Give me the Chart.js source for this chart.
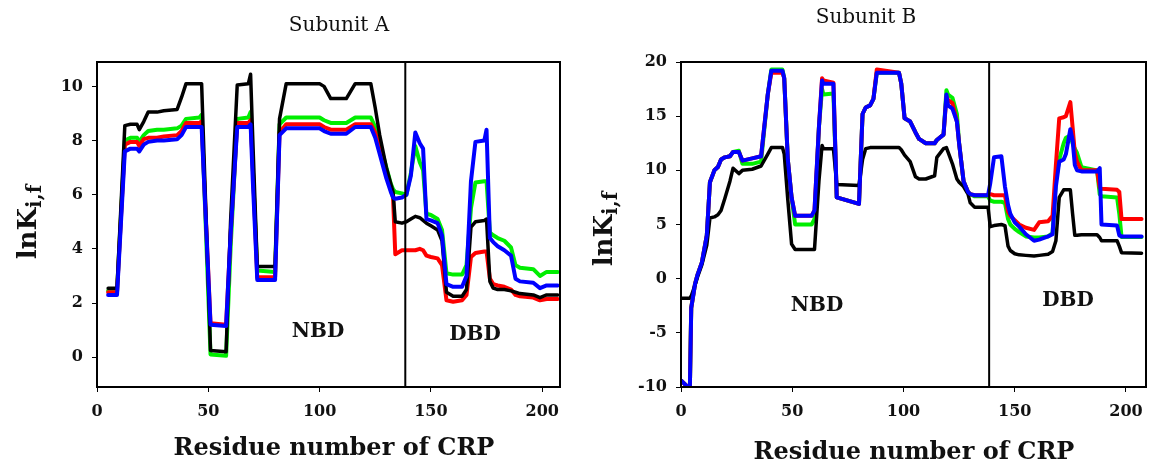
<!DOCTYPE html>
<html>
<head>
<meta charset="utf-8">
<script src="https://cdn.jsdelivr.net/npm/chart.js@4.4.0/dist/chart.umd.min.js"></script>
<style>
  body { margin: 0; background: #fff; }
  .panel { position: absolute; top: 0; }
</style>
</head>
<body>
<div class="panel" style="left:0"><canvas id="chartA" width="580" height="470"></canvas></div>
<div class="panel" style="left:580px"><canvas id="chartB" width="572" height="470"></canvas></div>
<script>
// residue numbers where the curves change slope
const residuesA = [5, 9, 12.5, 15, 18, 19, 21, 23, 27, 30,
  36, 38, 40, 46, 47, 51, 58, 60, 63, 68,
  69, 70, 72, 80, 82, 85, 100, 102, 105, 112,
  116, 123, 125, 127, 130, 132, 133, 134, 137, 139,
  141, 143, 145, 146.5, 148, 150, 153, 155, 157, 160,
  164, 166, 168, 170, 174, 175, 176.5, 178, 180, 183,
  186, 188, 190, 196, 199, 202, 207];

const blackA = [2.55, 2.55, 8.55, 8.6, 8.6, 8.4, 8.7, 9.05, 9.05, 9.1,
  9.15, 9.6, 10.1, 10.1, 10.1, 0.25, 0.2, 5.0, 10.05, 10.1,
  10.45, 8.0, 3.35, 3.35, 8.8, 10.1, 10.1, 10.0, 9.55, 9.55,
  10.1, 10.1, 9.2, 8.2, 7.0, 6.4, 6.1, 5.0, 4.95, 5.0,
  5.1, 5.2, 5.15, 5.05, 4.95, 4.85, 4.7, 4.3, 2.4, 2.25,
  2.25, 2.5, 4.8, 5.0, 5.05, 5.1, 2.8, 2.55, 2.5, 2.5,
  2.45, 2.4, 2.35, 2.3, 2.2, 2.3, 2.3];
const redA = [2.4, 2.4, 7.85, 7.95, 7.95, 7.8, 8.05, 8.1, 8.1, 8.15,
  8.2, 8.35, 8.65, 8.65, 8.7, 1.25, 1.2, 4.5, 8.65, 8.65,
  8.75, 7.0, 2.95, 2.95, 8.3, 8.6, 8.6, 8.5, 8.4, 8.4,
  8.6, 8.6, 8.3, 7.7, 6.8, 6.2, 5.9, 3.8, 3.95, 3.95,
  3.95, 3.95, 4.0, 3.95, 3.75, 3.7, 3.65, 3.4, 2.1, 2.05,
  2.1, 2.3, 3.7, 3.85, 3.9, 3.9, 2.9, 2.7, 2.65, 2.6,
  2.5, 2.3, 2.25, 2.2, 2.1, 2.15, 2.15];
const greenA = [2.45, 2.45, 8.0, 8.1, 8.1, 7.95, 8.2, 8.35, 8.4, 8.4,
  8.45, 8.55, 8.8, 8.85, 8.95, 0.1, 0.05, 4.0, 8.8, 8.85,
  9.05, 7.0, 3.2, 3.15, 8.6, 8.85, 8.85, 8.75, 8.65, 8.65,
  8.85, 8.85, 8.5, 7.9, 7.0, 6.4, 6.2, 6.1, 6.05, 6.0,
  6.8, 7.8, 7.2, 6.9, 5.3, 5.25, 5.1, 4.7, 3.1, 3.05,
  3.05, 3.4, 5.5, 6.45, 6.5, 6.5, 4.6, 4.5, 4.4, 4.3,
  4.05, 3.4, 3.3, 3.25, 3.0, 3.15, 3.15];
const blueA = [2.3, 2.3, 7.6, 7.7, 7.7, 7.6, 7.85, 7.95, 8.0, 8.0,
  8.05, 8.2, 8.5, 8.5, 8.5, 1.2, 1.15, 4.5, 8.5, 8.5,
  8.6, 6.5, 2.85, 2.85, 8.2, 8.45, 8.45, 8.35, 8.25, 8.25,
  8.5, 8.5, 8.1, 7.5, 6.6, 6.1, 5.9, 5.85, 5.9, 6.0,
  6.7, 8.3, 7.9, 7.7, 5.1, 5.05, 4.95, 4.5, 2.7, 2.6,
  2.6, 3.0, 6.5, 7.95, 8.0, 8.4, 4.4, 4.25, 4.1, 3.95,
  3.75, 2.9, 2.8, 2.75, 2.55, 2.65, 2.65];

const residuesB = [0, 3, 4, 4.6, 6.3, 7.5, 9.4, 11.6, 13, 15,
  16.6, 18, 19.7, 22, 23.4, 26, 27.6, 32, 36, 39,
  40.6, 45.6, 46.4, 48, 49.7, 51.3, 58.7, 60, 62, 63.4,
  64, 68.5, 70, 80, 81.6, 83, 85, 86.5, 88, 98,
  99, 100.5, 103, 105.4, 107, 110, 114, 115, 118, 119.3,
  120, 122, 124, 125, 127, 129, 130, 132, 138, 139,
  140.7, 144, 145.6, 147, 148, 150, 152, 155, 158.7, 161,
  165, 167, 168.5, 170, 172, 173, 175, 176, 177, 178,
  180, 187, 188.2, 189, 196, 197, 198, 207];

const blackB = [-1.8, -1.8, -1.8, -1.6, -0.6, 0.2, 1.3, 3.1, 5.6, 5.7,
  5.9, 6.3, 7.4, 9.0, 10.2, 9.7, 10.0, 10.1, 10.4, 11.5,
  12.1, 12.1, 11.5, 7.3, 3.2, 2.7, 2.7, 2.7, 9.0, 12.3,
  12.0, 12.0, 8.7, 8.6, 11.0, 12.0, 12.1, 12.1, 12.1, 12.1,
  11.9, 11.4, 10.8, 9.4, 9.2, 9.2, 9.5, 11.2, 12.0, 12.1,
  11.7, 10.6, 9.2, 8.9, 8.5, 7.8, 7.0, 6.6, 6.6, 4.8,
  4.9, 5.0, 4.9, 3.0, 2.6, 2.3, 2.2, 2.15, 2.1, 2.15,
  2.25, 2.5, 3.5, 7.5, 8.2, 8.2, 8.2, 6.0, 4.0, 4.0,
  4.05, 4.05, 3.8, 3.5, 3.5, 3.0, 2.4, 2.35];
const redB = [-9.4, -10, -10, -2.7, -0.5, 0.4, 1.5, 4.0, 8.9, 10.0,
  10.3, 11.0, 11.2, 11.3, 11.7, 11.7, 10.9, 11.1, 11.3, 17.0,
  19.0, 19.0, 18.5, 11.0, 7.5, 5.8, 5.8, 6.3, 14.0, 18.5,
  18.3, 18.1, 7.5, 6.9, 15.2, 15.8, 16.0, 16.6, 19.3, 19.0,
  18.0, 14.8, 14.5, 13.5, 12.9, 12.5, 12.5, 12.8, 13.3, 16.8,
  16.5, 16.2, 14.5, 12.5, 9.0, 8.0, 7.8, 7.7, 7.7, 7.8,
  7.7, 7.7, 7.7, 6.2, 5.8, 5.4, 5.0, 4.7, 4.5, 5.2,
  5.3, 5.8, 10.5, 14.8, 14.9, 15.0, 16.3, 14.0, 11.6, 10.8,
  10.0, 10.0, 8.4, 8.3, 8.2, 8.0, 5.5, 5.5];
const greenB = [-9.4, -10, -10, -2.7, -0.5, 0.4, 1.5, 4.0, 8.9, 10.0,
  10.3, 11.0, 11.2, 11.3, 11.7, 11.8, 10.6, 10.6, 10.8, 17.0,
  19.3, 19.3, 18.5, 11.0, 7.5, 5.0, 5.0, 5.5, 14.0, 17.5,
  17.0, 17.1, 7.5, 6.9, 15.2, 15.8, 16.0, 16.6, 19.0, 19.0,
  18.0, 14.8, 14.5, 13.5, 12.9, 12.5, 12.5, 12.8, 13.3, 17.4,
  17.0, 16.7, 15.2, 12.5, 9.0, 8.0, 7.8, 7.6, 7.6, 7.2,
  7.1, 7.1, 7.0, 5.5, 5.0, 4.6, 4.3, 3.9, 3.8, 3.8,
  3.9, 4.2, 9.0, 11.0, 12.5, 13.0, 13.2, 12.5, 12.0, 11.6,
  10.3, 10.0, 7.8, 7.6, 7.5, 6.0, 3.85, 3.85];
const blueB = [-9.4, -10, -10, -2.7, -0.5, 0.4, 1.5, 4.0, 8.9, 10.0,
  10.3, 11.0, 11.2, 11.3, 11.7, 11.7, 10.9, 11.1, 11.3, 17.0,
  19.2, 19.2, 18.5, 11.0, 7.5, 5.8, 5.8, 6.3, 14.0, 18.3,
  18.0, 18.0, 7.5, 6.9, 15.2, 15.8, 16.0, 16.6, 19.0, 19.0,
  18.0, 14.8, 14.5, 13.5, 12.9, 12.5, 12.5, 12.8, 13.3, 17.0,
  16.0, 15.7, 14.5, 12.5, 9.0, 8.0, 7.8, 7.7, 7.7, 8.8,
  11.2, 11.3, 8.5, 6.8, 6.0, 5.2, 4.8, 4.1, 3.5, 3.6,
  3.9, 4.1, 8.5, 10.8, 11.0, 11.5, 13.8, 12.8, 10.5, 10.0,
  9.9, 9.9, 10.2, 5.0, 4.9, 4.0, 3.9, 3.9];

const xTicks = [0, 50, 100, 150, 200];
const yTicksA = [0, 2, 4, 6, 8, 10];
const yTicksB = [-10, -5, 0, 5, 10, 15, 20];
const domainSplit = 138.5; // NBD | DBD boundary

const serif = "'DejaVu Serif', serif";

const pts = (xs, ys) => xs.map((x, i) => ({ x, y: ys[i] }));

/* frame, domain line and all the text */
const decor = {
  id: "decor",
  afterDatasetsDraw(chart, args, o) {
    const { ctx, chartArea: a, scales: { x } } = chart;
    ctx.save();
    ctx.strokeStyle = "#000";
    ctx.lineWidth = 2;
    ctx.strokeRect(a.left, a.top, a.width, a.height);
    const sx = x.getPixelForValue(domainSplit);
    ctx.beginPath();
    ctx.moveTo(sx, a.top);
    ctx.lineTo(sx, a.bottom);
    ctx.stroke();

    ctx.fillStyle = "#111";
    ctx.textAlign = "center";
    ctx.textBaseline = "middle";

    ctx.font = `20px ${serif}`;
    ctx.fillText(o.title, o.titlePos[0], o.titlePos[1]);

    ctx.font = `bold 24px ${serif}`;
    ctx.fillText("Residue number of CRP", o.xTitlePos[0], o.xTitlePos[1]);

    ctx.font = `bold 20px ${serif}`;
    ctx.fillText("NBD", o.nbdPos[0], o.nbdPos[1]);
    ctx.fillText("DBD", o.dbdPos[0], o.dbdPos[1]);

    // lnK with subscript i,f, rotated
    ctx.translate(o.yTitlePos[0], o.yTitlePos[1]);
    ctx.rotate(-Math.PI / 2);
    ctx.textAlign = "left";
    ctx.font = `bold 26px ${serif}`;
    const w1 = ctx.measureText("lnK").width;
    ctx.font = `bold 20px ${serif}`;
    const w2 = ctx.measureText("i,f").width;
    const x0 = -(w1 + w2) / 2;
    ctx.font = `bold 26px ${serif}`;
    ctx.fillText("lnK", x0, 0);
    ctx.font = `bold 20px ${serif}`;
    ctx.fillText("i,f", x0 + w1, 7);
    ctx.restore();
  }
};

function makeChart(id, residues, series, xMax, yMin, yMax, yTicks, pad, texts) {
  const colors = ["#0000ff", "#000000", "#ff0000", "#00ee00"];
  const datasets = series.map((s, i) => ({
    data: pts(residues, s),
    borderColor: colors[i],
    borderWidth: i === 1 ? 3.5 : 4,
    pointRadius: 0,
    tension: 0,
    borderJoinStyle: "round",
    borderCapStyle: "round",
    order: i
  }));

  return new Chart(document.getElementById(id), {
    type: "line",
    data: { datasets },
    options: {
      responsive: false,
      animation: false,
      layout: { padding: pad },
      plugins: {
        legend: { display: false },
        tooltip: { enabled: false },
        decor: texts
      },
      scales: {
        x: {
          type: "linear",
          min: 0,
          max: xMax,
          afterBuildTicks: s => { s.ticks = xTicks.map(v => ({ value: v })); },
          afterFit: s => { s.height = 45; s.paddingLeft = 0; s.paddingRight = 0; },
          ticks: { font: { family: serif, size: 16, weight: "bold" }, color: "#111", padding: 10, maxRotation: 0 },
          grid: { drawOnChartArea: false, drawTicks: true, tickLength: 5, color: "#000" },
          border: { color: "#000", width: 2 }
        },
        y: {
          min: yMin,
          max: yMax,
          afterBuildTicks: s => { s.ticks = yTicks.map(v => ({ value: v })); },
          afterFit: s => { s.width = 60; s.paddingTop = 0; s.paddingBottom = 0; },
          ticks: { font: { family: serif, size: 16, weight: "bold" }, color: "#111", padding: 9 },
          grid: { drawOnChartArea: false, drawTicks: true, tickLength: 5, color: "#000" },
          border: { color: "#000", width: 2 }
        }
      }
    },
    plugins: [decor]
  });
}

makeChart("chartA", residuesA, [blueA, blackA, redA, greenA], 208, -1.1, 10.9, yTicksA,
  { left: 37, right: 20, top: 62, bottom: 38 },
  { title: "Subunit A", titlePos: [339, 26], xTitlePos: [334, 449], yTitlePos: [29, 222],
    nbdPos: [318, 332], dbdPos: [475, 335] });

makeChart("chartB", residuesB, [blueB, blackB, redB, greenB], 209, -10, 20, yTicksB,
  { left: 41, right: 6, top: 62, bottom: 38 },
  { title: "Subunit B", titlePos: [286, 18], xTitlePos: [334, 453], yTitlePos: [25, 229],
    nbdPos: [237, 306], dbdPos: [488, 301] });
</script>
</body>
</html>
